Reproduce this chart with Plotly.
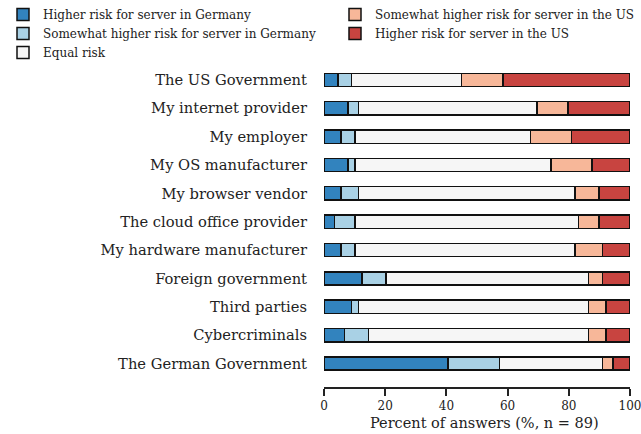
import plotly.graph_objects as go

N = 89
categories = ["The US Government", "My internet provider", "My employer", "My OS manufacturer",
              "My browser vendor", "The cloud office provider", "My hardware manufacturer",
              "Foreign government", "Third parties", "Cybercriminals", "The German Government"]

# answer counts (out of n = 89)
higher_de = [4, 7, 5, 7, 5, 3, 5, 11, 8, 6, 36]
somewhat_de = [4, 3, 4, 2, 5, 6, 4, 7, 2, 7, 15]
equal = [32, 52, 51, 57, 63, 65, 64, 59, 67, 64, 30]
somewhat_us = [12, 9, 12, 12, 7, 6, 8, 4, 5, 5, 3]
higher_us = [37, 18, 17, 11, 9, 9, 8, 8, 7, 7, 5]

x_ticks = [0, 20, 40, 60, 80, 100]
x_title = "Percent of answers (%, n = 89)"

series = [
    ("Higher risk for server in Germany", higher_de, "#3283be", "legend"),
    ("Somewhat higher risk for server in Germany", somewhat_de, "#a9d1e5", "legend"),
    ("Equal risk", equal, "#f6f6f6", "legend"),
    ("Somewhat higher risk for server in the US", somewhat_us, "#f7b799", "legend2"),
    ("Higher risk for server in the US", higher_us, "#c84440", "legend2"),
]

font = "DejaVu Serif"
fig = go.Figure()
for name, vals, color, lg in series:
    fig.add_trace(go.Bar(
        y=categories, x=[v / N * 100 for v in vals], name=name, orientation="h",
        marker=dict(color=color, line=dict(color="#111111", width=1.5)),
        width=0.47, legend=lg,
    ))

leg_common = dict(orientation="v", xref="container", yref="container", yanchor="top",
                  xanchor="left", y=1.0, font=dict(size=12, family=font, color="#222222"),
                  tracegroupgap=0, itemwidth=30, traceorder="normal", bgcolor="rgba(0,0,0,0)")

fig.update_layout(
    barmode="stack",
    width=641, height=434,
    margin=dict(l=324, r=11, t=61, b=47, autoexpand=False),
    plot_bgcolor="white", paper_bgcolor="white",
    font=dict(family=font, color="#222222"),
    showlegend=True,
    legend=dict(x=3 / 641, **leg_common),
    legend2=dict(x=335 / 641, **leg_common),
    xaxis=dict(range=[0, 100], tickvals=x_ticks, showgrid=False,
               showline=True, linecolor="#222222", linewidth=1.5, ticks="outside",
               ticklen=7, tickwidth=1.5, tickcolor="#222222",
               tickfont=dict(size=12, family=font), ticklabeloverflow="allow",
               zeroline=False),
    yaxis=dict(autorange=False, range=[10.83, -0.67], showgrid=False, showline=False,
               ticks="", tickfont=dict(size=14.7, family=font), ticklabelstandoff=16,
               zeroline=False),
    annotations=[dict(text=x_title, xref="paper", yref="paper", x=0.523, y=-0.1106,
                      xanchor="center", yanchor="middle", showarrow=False,
                      font=dict(size=14.5, family=font, color="#222222"))],
)

fig.write_html("out.html", post_script="document.body.style.margin='0';",
               config={"displayModeBar": False})
